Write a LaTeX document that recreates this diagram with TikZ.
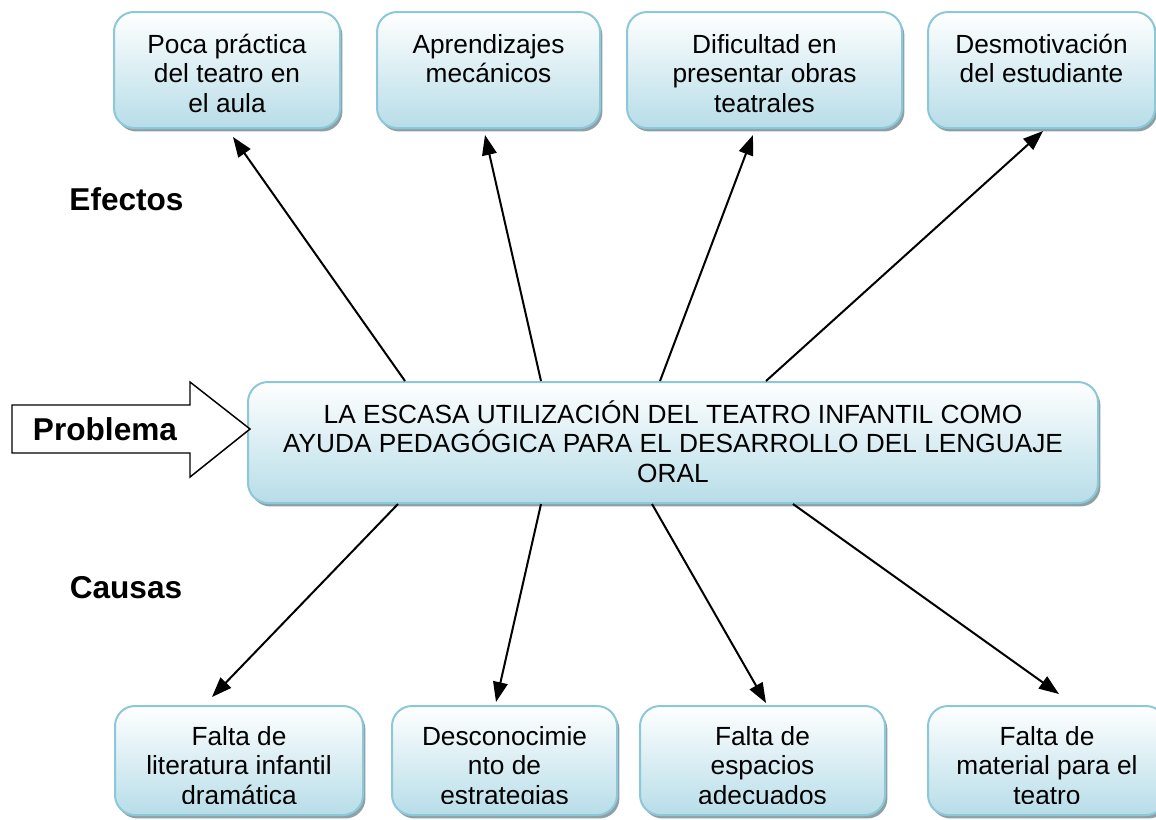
\documentclass[tikz,border=0pt]{standalone}
\usepackage{fontspec}
\setmainfont{Liberation Sans}
\usetikzlibrary{arrows.meta,shadows,calc}
\definecolor{boxfill}{RGB}{183,221,232}
\definecolor{boxline}{RGB}{140,200,216}
\definecolor{shadowc}{RGB}{140,160,166}
\tikzset{
  box/.style={draw=boxline, line width=1.5pt, rounded corners=15pt,
    top color=white, bottom color=boxfill,
    drop shadow={shadow xshift=1.8pt, shadow yshift=-2.6pt, fill=shadowc, opacity=1}},
  txt/.style={anchor=base, align=center, inner sep=0pt,
    font=\fontsize{19.7pt}{22.2pt}\selectfont},
  lab/.style={anchor=base, inner sep=0pt,
    font=\fontsize{23.7pt}{27pt}\selectfont\bfseries},
  conn/.style={line width=1.5pt, -{Triangle[length=15pt,width=11pt]}},
  bigarrow/.style={draw=black, line width=1.1pt, fill=white}
}
\begin{document}
\begin{tikzpicture}[x=0.75pt,y=-0.75pt]
\useasboundingbox (0,0) rectangle (1156,819);
\clip (0,0) rectangle (1156,819);

% effect boxes
\node[box, minimum width=169.5pt, minimum height=87pt] (e1) at (227,70) {};
\node[box, minimum width=167.25pt, minimum height=87pt] (e2) at (488.5,70) {};
\node[box, minimum width=206.25pt, minimum height=87pt] (e3) at (764.5,70) {};
\node[box, minimum width=170.25pt, minimum height=87pt] (e4) at (1041.5,70) {};
% anchor=base is the baseline of the last line
\node[txt] (e1t) at (227,112.2) {Poca práctica\\del teatro en\\el aula};
\node[txt] (e2t) at (488.5,82.6) {Aprendizajes\\mecánicos};
\node[txt] (e3t) at (764.5,112.2) {Dificultad en\\presentar obras\\teatrales};
\node[txt] (e4t) at (1041.5,82.6) {Desmotivación\\del estudiante};

% central problem box
\node[box, minimum width=637.5pt, minimum height=90.75pt] (m) at (673,442.5) {};
\node[txt] (mt) at (673,482.2) {LA ESCASA UTILIZACIÓN DEL TEATRO INFANTIL COMO\\AYUDA PEDAGÓGICA PARA EL DESARROLLO DEL LENGUAJE\\ORAL};

% cause boxes
\node[box, minimum width=186pt, minimum height=81.75pt] (c1) at (239,760.5) {};
\node[box, minimum width=168.75pt, minimum height=81.75pt] (c2) at (504.5,760.5) {};
\node[box, minimum width=183.75pt, minimum height=81.75pt] (c3) at (762.5,760.5) {};
\node[box, minimum width=178.5pt, minimum height=81.75pt] (c4) at (1047,760.5) {};
\begin{scope}
\clip (0,0) rectangle (1156,803);
\node[txt] (c1t) at (239,804.2) {Falta de\\literatura infantil\\dramática};
\node[txt] (c2t) at (504.5,804.2) {Desconocimie\\nto de\\estrategias};
\node[txt] (c3t) at (762.5,804.2) {Falta de\\espacios\\adecuados};
\node[txt] (c4t) at (1047,804.2) {Falta de\\material para el\\teatro};
\end{scope}

% side labels
\node[lab] (efe) at (126.5,210) {Efectos};
\node[lab] (cau) at (126,598) {Causas};

% problem block arrow
\draw[bigarrow] (12,405) -- (190,405) -- (190,382) -- (250,429) -- (190,477) -- (190,453) -- (12,453) -- cycle;
\node[lab] (pro) at (105,440) {Problema};

% connectors to effects
\draw[conn] (m.north -| 405,0) -- ($(e1.south -| 233,0)+(0,8)$);
\draw[conn] (m.north -| 541,0) -- ($(e2.south -| 485,0)+(0,6)$);
\draw[conn] (m.north -| 660,0) -- ($(e3.south -| 753,0)+(0,6)$);
\draw[conn] (m.north -| 766,0) -- ($(e4.south -| 1043,0)+(0,2)$);

% connectors to causes
\draw[conn] (m.south -| 398,0) -- ($(c1.north -| 212,0)+(0,-8)$);
\draw[conn] (m.south -| 541,0) -- ($(c2.north -| 496,0)+(0,-3)$);
\draw[conn] (m.south -| 652,0) -- ($(c3.north -| 766,0)+(0,-2)$);
\draw[conn] (m.south -| 793,0) -- ($(c4.north -| 1059,0)+(0,-11)$);
\end{tikzpicture}
\end{document}
